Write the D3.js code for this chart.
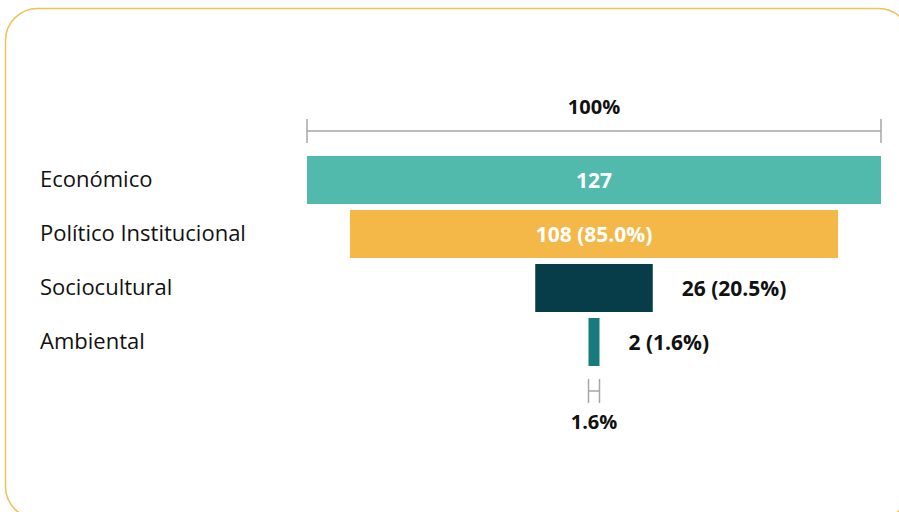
<!DOCTYPE html>
<html>
<head>
<meta charset="utf-8">
<script src="https://cdn.jsdelivr.net/npm/d3@7"></script>
<style>
  body { margin: 0; background: #fff; }
  svg { display: block; }
</style>
</head>
<body>
<div id="chart"></div>
<script>
// Data
const categories = ["Económico", "Político Institucional", "Sociocultural", "Ambiental"];
const values = [127, 108, 26, 2];
const colors = ["#52baac", "#f4b849", "#073d49", "#177b7b"];

const W = 899, H = 512;
const centerX = 594;
const fullWidth = 574;
const minBar = 11;

const svg = d3.select("#chart")
    .append("svg")
    .attr("width", W)
    .attr("height", H);

// card border
svg.append("rect")
    .attr("x", 5.5)
    .attr("y", 8.5)
    .attr("width", 905)
    .attr("height", 510)
    .attr("rx", 32)
    .attr("fill", "none")
    .attr("stroke", "#efc258")
    .attr("stroke-width", 1.5);

const x = d3.scaleLinear()
    .domain([0, d3.max(values)])
    .range([0, fullWidth]);

const y = d3.scaleBand()
    .domain(categories)
    .range([156, 366])
    .paddingInner(0.111)
    .paddingOuter(0);

const data = categories.map((c, i) => ({
    name: c,
    value: values[i],
    color: colors[i],
    pct: values[i] / values[0] * 100
}));

const barW = d => Math.max(x(d.value), minBar);
const fmt = d3.format(".1f");
const labelText = (d, i) => i === 0 ? `${d.value}` : `${d.value} (${fmt(d.pct)}%)`;

// bars
svg.selectAll(".bar")
    .data(data)
    .enter()
    .append("rect")
    .attr("class", "bar")
    .attr("x", d => centerX - barW(d) / 2)
    .attr("y", d => y(d.name))
    .attr("width", barW)
    .attr("height", y.bandwidth())
    .attr("fill", d => d.color);

// category labels
svg.selectAll(".cat")
    .data(data)
    .enter()
    .append("text")
    .attr("class", "cat")
    .attr("x", 40)
    .attr("y", d => y(d.name) + y.bandwidth() / 2 - 1)
    .attr("dy", "0.35em")
    .style("font-family", "'Open Sans', sans-serif")
    .style("font-size", "22px")
    .style("fill", "#111")
    .text(d => d.name);

// value labels: inside if it fits, else to the right
const vals = svg.selectAll(".val")
    .data(data)
    .enter()
    .append("text")
    .attr("class", "val")
    .attr("y", d => y(d.name) + y.bandwidth() / 2 + 1)
    .attr("dy", "0.35em")
    .style("font-family", "'Open Sans', sans-serif")
    .style("font-weight", "bold")
    .style("font-size", "21px")
    .text(labelText);

vals.each(function(d) {
    const t = d3.select(this);
    const tw = this.getComputedTextLength();
    if (tw + 30 < barW(d)) {
        t.attr("x", centerX).attr("text-anchor", "middle").style("fill", "#fff");
    } else {
        t.attr("x", centerX + barW(d) / 2 + 29).attr("text-anchor", "start").style("fill", "#111");
    }
});

// brackets
function bracket(w, yLine, label, labelY) {
    const g = svg.append("g");
    const x0 = centerX - w / 2, x1 = centerX + w / 2;
    const tick = 12;
    g.append("line")
        .attr("x1", x0).attr("x2", x1)
        .attr("y1", yLine).attr("y2", yLine)
        .attr("stroke", "#a6a6a6").attr("stroke-width", 1.5);
    [x0, x1].forEach(xx => {
        g.append("line")
            .attr("x1", xx).attr("x2", xx)
            .attr("y1", yLine - tick).attr("y2", yLine + tick)
            .attr("stroke", "#a6a6a6").attr("stroke-width", 1.5);
    });
    g.append("text")
        .attr("x", centerX)
        .attr("y", labelY)
        .attr("text-anchor", "middle")
        .style("font-family", "'Open Sans', sans-serif")
        .style("font-weight", "bold")
        .style("font-size", "20px")
        .style("fill", "#111")
        .text(label);
}

const first = data[0], last = data[data.length - 1];
bracket(barW(first), 131, "100%", 114);
bracket(barW(last), 391, fmt(last.pct) + "%", 429);
</script>
</body>
</html>
